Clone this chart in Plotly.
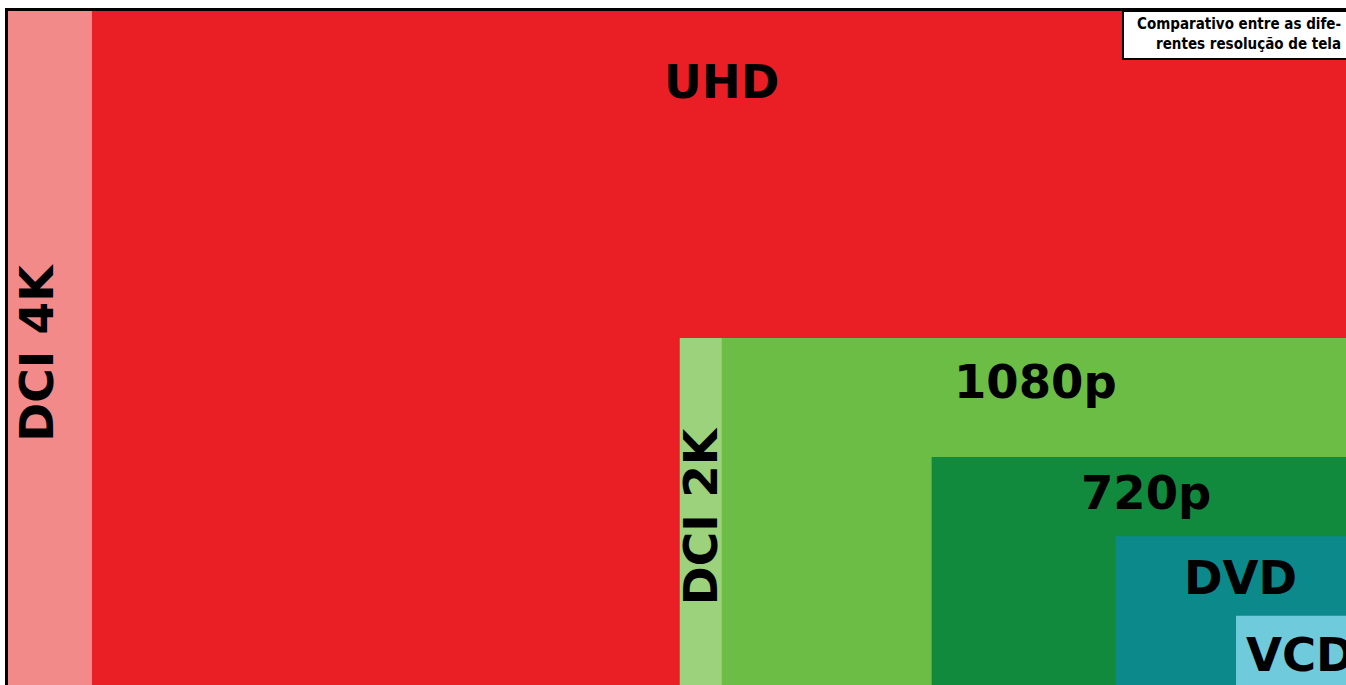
import plotly.graph_objects as go

# Resolution data (width x height in pixels)
names = ["DCI 4K", "UHD", "DCI 2K", "1080p", "720p", "DVD", "VCD"]
widths = [4096, 3840, 2048, 1920, 1280, 720, 352]
heights = [2160, 2160, 1080, 1080, 720, 480, 240]
colors = ["#F28A8A", "#EA1F25", "#9DD27C", "#6BBD45", "#128A3E", "#0B898B", "#6FCBDC"]
vertical = [True, False, True, False, False, False, False]
note_text = "Comparativo entre as dife-<br>rentes resolução de tela"

anchor_x = max(widths)
# label placement (layout, not data)
label_drop = [1125, 305, 540, 133, 109, 126, 119]
label_xshift = [-13, 0, 0, -1, 4, 7, 7]

fig = go.Figure()
shapes = []
annotations = []
for n, w, h, c, v, d, xs in zip(names, widths, heights, colors, vertical, label_drop, label_xshift):
    x0 = anchor_x - w
    shapes.append(dict(type="rect", xref="x", yref="y", x0=x0, x1=anchor_x, y0=0, y1=h,
                       fillcolor=c, line=dict(width=0), layer="below"))
    if v:
        other = [ww for ww, hh in zip(widths, heights) if hh == h and ww < w][0]
        xc = x0 + (w - other) / 2
        annotations.append(dict(x=xc, y=h - d, xref="x", yref="y", text=n, showarrow=False,
                                textangle=-90, xshift=xs,
                                font=dict(family="DejaVu Sans", size=47, color="black", weight=700),
                                xanchor="center", yanchor="middle"))
    else:
        annotations.append(dict(x=(x0 + anchor_x) / 2, y=h - d, xref="x", yref="y", text=n, showarrow=False,
                                xshift=xs,
                                font=dict(family="DejaVu Sans", size=46.5, color="black", weight=700),
                                xanchor="center", yanchor="middle"))

# note box
shapes.append(dict(type="rect", xref="paper", yref="paper", x0=0.8333, x1=1.02, y0=0.9288, y1=1.0,
                   fillcolor="white", line=dict(color="black", width=2), layer="above"))
annotations.append(dict(xref="paper", yref="paper", x=0.9975, y=0.966, text=note_text, showarrow=False,
                        align="right", xanchor="right", yanchor="middle",
                        font=dict(family="DejaVu Sans Condensed, DejaVu Sans", size=15, color="black", weight=700)))

fig.add_trace(go.Scatter(x=[0, anchor_x], y=[0, max(heights)], mode="markers",
                         marker=dict(opacity=0), hoverinfo="skip", showlegend=False))

fig.update_layout(
    width=1346, height=685,
    margin=dict(l=8, r=0, t=11, b=0),
    paper_bgcolor="white", plot_bgcolor="white",
    shapes=shapes, annotations=annotations,
    xaxis=dict(range=[0, 1338 / 0.328], showgrid=False, zeroline=False, showticklabels=False,
               ticks="", showline=True, linecolor="black", linewidth=3, side="top", fixedrange=True),
    yaxis=dict(range=[(695 - 685) / 0.3306, (695 - 11) / 0.3306], showgrid=False, zeroline=False,
               showticklabels=False, ticks="", showline=True, linecolor="black", linewidth=3, fixedrange=True),
)

fig.write_html("out.html", config={"displayModeBar": False},
               post_script="document.body.style.margin='0';document.body.style.overflow='hidden';")
